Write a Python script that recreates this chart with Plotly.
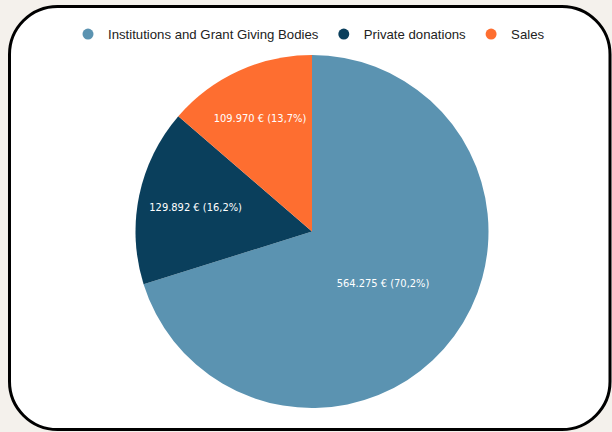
import plotly.graph_objects as go

labels = ["Institutions and Grant Giving Bodies", "Private donations", "Sales"]
values = [564275, 129892, 109970]
colors = ["#5b93b1", "#0a3f5c", "#fe6e30"]

W, H = 612, 432

def px(x):
    return x / W

def py(y):
    return 1 - y / H

# rounded card (pixel coords -> paper)
x0, y0, x1, y1, r = 9.5, 6.5, 610.0, 429.5, 48
k = 0.5523 * r
path = (
    f"M {px(x0 + r)},{py(y0)} "
    f"L {px(x1 - r)},{py(y0)} "
    f"C {px(x1 - r + k)},{py(y0)} {px(x1)},{py(y0 + r - k)} {px(x1)},{py(y0 + r)} "
    f"L {px(x1)},{py(y1 - r)} "
    f"C {px(x1)},{py(y1 - r + k)} {px(x1 - r + k)},{py(y1)} {px(x1 - r)},{py(y1)} "
    f"L {px(x0 + r)},{py(y1)} "
    f"C {px(x0 + r - k)},{py(y1)} {px(x0)},{py(y1 - r + k)} {px(x0)},{py(y1 - r)} "
    f"L {px(x0)},{py(y0 + r)} "
    f"C {px(x0)},{py(y0 + r - k)} {px(x0 + r - k)},{py(y0)} {px(x0 + r)},{py(y0)} Z"
)

fig = go.Figure()
fig.add_trace(go.Pie(
    labels=labels,
    values=values,
    marker=dict(colors=colors, line=dict(width=0)),
    sort=False,
    direction="clockwise",
    rotation=0,
    texttemplate="%{value:,} € (%{percent:.1%})",
    textposition="inside",
    insidetextorientation="horizontal",
    textfont=dict(family="DejaVu Sans Condensed, DejaVu Sans", size=11, color="white"),
    hoverinfo="label+value+percent",
    showlegend=False,
    domain=dict(x=[px(135.5), px(488.5)], y=[py(408), py(55)]),
))

for name, c in zip(labels, colors):
    fig.add_trace(go.Scatter(
        x=[None], y=[None], mode="markers", name=name,
        marker=dict(symbol="circle", size=11, color=c),
    ))

fig.update_layout(
    width=W, height=H,
    margin=dict(l=0, r=0, t=0, b=0),
    paper_bgcolor="#f4f1ec",
    plot_bgcolor="rgba(0,0,0,0)",
    separators=",.",
    xaxis=dict(visible=False),
    yaxis=dict(visible=False),
    showlegend=True,
    legend=dict(
        orientation="h", x=px(309), xanchor="center", y=py(19), yanchor="top",
        font=dict(family="Liberation Sans, Arial", size=13.2, color="#222222"),
        bgcolor="rgba(0,0,0,0)", itemwidth=30,
    ),
    shapes=[dict(
        type="path", path=path, xref="paper", yref="paper", layer="below",
        fillcolor="white", line=dict(color="black", width=3),
    )],
)

fig.write_html(
    "out.html",
    config={"displayModeBar": False},
    post_script="document.body.style.margin='0';document.body.style.background='#f4f1ec';document.body.style.overflow='hidden';",
)
